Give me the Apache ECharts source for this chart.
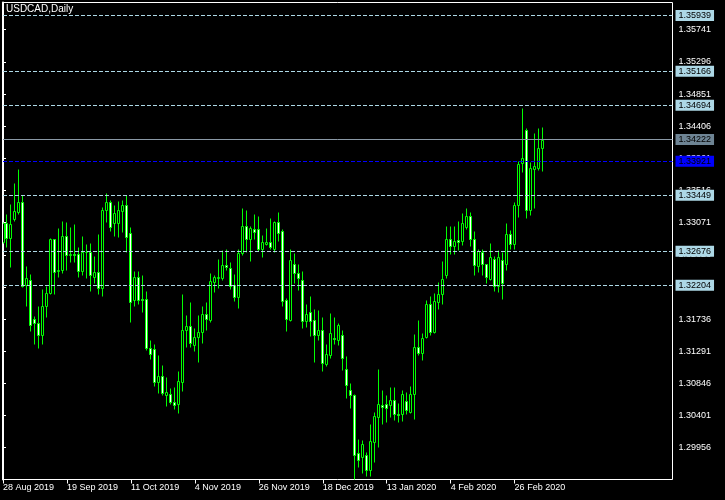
<!DOCTYPE html>
<html><head><meta charset="utf-8">
<script src="https://cdn.jsdelivr.net/npm/echarts@6/dist/echarts.min.js"></script>
<style>html,body{margin:0;padding:0;background:#000;}#c{width:725px;height:500px;}</style>
</head><body><div id="c"></div>
<script>
const dates = ['28 Aug 2019','29 Aug 2019','30 Aug 2019','2 Sep 2019','3 Sep 2019','4 Sep 2019','5 Sep 2019','6 Sep 2019','9 Sep 2019','10 Sep 2019','11 Sep 2019','12 Sep 2019','13 Sep 2019','16 Sep 2019','17 Sep 2019','18 Sep 2019','19 Sep 2019','20 Sep 2019','23 Sep 2019','24 Sep 2019','25 Sep 2019','26 Sep 2019','27 Sep 2019','30 Sep 2019','1 Oct 2019','2 Oct 2019','3 Oct 2019','4 Oct 2019','7 Oct 2019','8 Oct 2019','9 Oct 2019','10 Oct 2019','11 Oct 2019','14 Oct 2019','15 Oct 2019','16 Oct 2019','17 Oct 2019','18 Oct 2019','21 Oct 2019','22 Oct 2019','23 Oct 2019','24 Oct 2019','25 Oct 2019','28 Oct 2019','29 Oct 2019','30 Oct 2019','31 Oct 2019','1 Nov 2019','4 Nov 2019','5 Nov 2019','6 Nov 2019','7 Nov 2019','8 Nov 2019','11 Nov 2019','12 Nov 2019','13 Nov 2019','14 Nov 2019','15 Nov 2019','18 Nov 2019','19 Nov 2019','20 Nov 2019','21 Nov 2019','22 Nov 2019','25 Nov 2019','26 Nov 2019','27 Nov 2019','28 Nov 2019','29 Nov 2019','2 Dec 2019','3 Dec 2019','4 Dec 2019','5 Dec 2019','6 Dec 2019','9 Dec 2019','10 Dec 2019','11 Dec 2019','12 Dec 2019','13 Dec 2019','16 Dec 2019','17 Dec 2019','18 Dec 2019','19 Dec 2019','20 Dec 2019','23 Dec 2019','24 Dec 2019','26 Dec 2019','27 Dec 2019','30 Dec 2019','31 Dec 2019','2 Jan 2020','3 Jan 2020','6 Jan 2020','7 Jan 2020','8 Jan 2020','9 Jan 2020','10 Jan 2020','13 Jan 2020','14 Jan 2020','15 Jan 2020','16 Jan 2020','17 Jan 2020','20 Jan 2020','21 Jan 2020','22 Jan 2020','23 Jan 2020','24 Jan 2020','27 Jan 2020','28 Jan 2020','29 Jan 2020','30 Jan 2020','31 Jan 2020','3 Feb 2020','4 Feb 2020','5 Feb 2020','6 Feb 2020','7 Feb 2020','10 Feb 2020','11 Feb 2020','12 Feb 2020','13 Feb 2020','14 Feb 2020','17 Feb 2020','18 Feb 2020','19 Feb 2020','20 Feb 2020','21 Feb 2020','24 Feb 2020','25 Feb 2020','26 Feb 2020','27 Feb 2020','28 Feb 2020','2 Mar 2020','3 Mar 2020','4 Mar 2020','5 Mar 2020','6 Mar 2020'];

const opens = [1.3280,1.3306,1.3286,1.3312,1.3322,1.3335,1.3221,1.3228,1.3174,1.3168,
1.3152,1.3192,1.3209,1.3284,1.3240,1.3242,1.3288,1.3262,1.3263,1.3263,
1.3240,1.3267,1.3266,1.3232,1.3239,1.3217,1.3324,1.3335,1.3307,1.3307,
1.3323,1.3331,1.3293,1.3200,1.3232,1.3201,1.3201,1.3134,1.3132,1.3087,
1.3095,1.3069,1.3070,1.3059,1.3056,1.3087,1.3159,1.3164,1.3137,1.3149,
1.3156,1.3180,1.3172,1.3225,1.3231,1.3231,1.3248,1.3244,1.3221,1.3204,
1.3265,1.3302,1.3284,1.3298,1.3298,1.3271,1.3278,1.3280,1.3270,1.3308,
1.3295,1.3200,1.3172,1.3250,1.3238,1.3228,1.3171,1.3183,1.3172,1.3152,
1.3158,1.3112,1.3124,1.3147,1.3144,1.3152,1.3104,1.3075,1.3068,1.2988,
1.2982,1.2986,1.2964,1.3004,1.3038,1.3055,1.3056,1.3055,1.3061,1.3042,
1.3042,1.3060,1.3045,1.3070,1.3135,1.3126,1.3149,1.3194,1.3155,1.3197,
1.3208,1.3235,1.3284,1.3275,1.3283,1.3281,1.3301,1.3316,1.3285,1.3247,
1.3266,1.3250,1.3229,1.3257,1.3219,1.3256,1.3250,1.3292,1.3277,1.3331,
1.3389,1.3435,1.3324,1.3381,1.3383,1.3410];

const closes = [1.3306,1.3286,1.3305,1.3323,1.3335,1.3220,1.3230,1.3165,1.3168,1.3152,
1.3192,1.3209,1.3285,1.3239,1.3242,1.3288,1.3262,1.3264,1.3262,1.3240,
1.3267,1.3266,1.3235,1.3239,1.3217,1.3324,1.3335,1.3301,1.3321,1.3324,
1.3331,1.3287,1.3197,1.3232,1.3200,1.3200,1.3134,1.3125,1.3087,1.3095,
1.3071,1.3072,1.3059,1.3055,1.3088,1.3159,1.3164,1.3140,1.3149,1.3155,
1.3180,1.3174,1.3226,1.3232,1.3232,1.3248,1.3245,1.3220,1.3204,1.3265,
1.3302,1.3284,1.3300,1.3294,1.3271,1.3280,1.3280,1.3274,1.3308,1.3293,
1.3199,1.3173,1.3255,1.3238,1.3230,1.3171,1.3181,1.3171,1.3152,1.3158,
1.3113,1.3125,1.3154,1.3146,1.3166,1.3119,1.3082,1.3068,1.2985,1.2979,
1.3000,1.2965,1.3005,1.3039,1.3056,1.3052,1.3050,1.3061,1.3042,1.3041,
1.3070,1.3048,1.3070,1.3135,1.3127,1.3147,1.3194,1.3155,1.3198,1.3208,
1.3229,1.3285,1.3275,1.3281,1.3280,1.3306,1.3316,1.3285,1.3249,1.3268,
1.3250,1.3232,1.3259,1.3219,1.3259,1.3224,1.3292,1.3277,1.3331,1.3388,
1.3396,1.3325,1.3383,1.3385,1.3410,1.3422];

const lows = [1.3279,1.3273,1.3246,1.3310,1.3319,1.3218,1.3191,1.3157,1.3139,1.3134,
1.3139,1.3177,1.3208,1.3208,1.3232,1.3237,1.3242,1.3253,1.3253,1.3232,
1.3235,1.3230,1.3213,1.3224,1.3208,1.3206,1.3308,1.3296,1.3288,1.3287,
1.3294,1.3267,1.3170,1.3191,1.3195,1.3184,1.3131,1.3118,1.3081,1.3071,
1.3068,1.3053,1.3056,1.3049,1.3043,1.3074,1.3135,1.3135,1.3130,1.3114,
1.3141,1.3158,1.3169,1.3211,1.3216,1.3227,1.3242,1.3215,1.3199,1.3189,
1.3262,1.3267,1.3254,1.3284,1.3268,1.3260,1.3276,1.3271,1.3267,1.3281,
1.3192,1.3157,1.3171,1.3223,1.3214,1.3161,1.3163,1.3150,1.3114,1.3145,
1.3102,1.3108,1.3120,1.3139,1.3138,1.3103,1.3065,1.3050,1.2951,1.2969,
1.2961,1.2957,1.2957,1.2976,1.2996,1.3029,1.3031,1.3038,1.3034,1.3031,
1.3033,1.3042,1.3044,1.3035,1.3124,1.3117,1.3148,1.3151,1.3154,1.3187,
1.3194,1.3231,1.3263,1.3263,1.3269,1.3276,1.3298,1.3275,1.3235,1.3239,
1.3234,1.3224,1.3227,1.3213,1.3211,1.3201,1.3242,1.3270,1.3270,1.3315,
1.3377,1.3313,1.3317,1.3327,1.3380,1.3379];

const highs = [1.3308,1.3319,1.3333,1.3362,1.3382,1.3345,1.3247,1.3236,1.3178,1.3191,
1.3215,1.3220,1.3286,1.3285,1.3299,1.3310,1.3308,1.3301,1.3305,1.3274,
1.3288,1.3277,1.3279,1.3261,1.3291,1.3329,1.3348,1.3338,1.3331,1.3337,
1.3338,1.3346,1.3301,1.3240,1.3240,1.3234,1.3212,1.3145,1.3139,1.3124,
1.3110,1.3094,1.3078,1.3080,1.3102,1.3208,1.3179,1.3197,1.3161,1.3179,
1.3192,1.3197,1.3237,1.3235,1.3257,1.3269,1.3270,1.3252,1.3236,1.3271,
1.3327,1.3325,1.3303,1.3319,1.3316,1.3290,1.3300,1.3313,1.3310,1.3322,
1.3298,1.3203,1.3270,1.3265,1.3250,1.3240,1.3194,1.3205,1.3187,1.3186,
1.3177,1.3139,1.3182,1.3177,1.3168,1.3158,1.3122,1.3085,1.3070,1.3008,
1.3006,1.2990,1.3029,1.3045,1.3105,1.3076,1.3068,1.3080,1.3080,1.3057,
1.3075,1.3073,1.3081,1.3153,1.3172,1.3154,1.3200,1.3205,1.3210,1.3225,
1.3254,1.3303,1.3302,1.3302,1.3309,1.3321,1.3328,1.3322,1.3295,1.3271,
1.3270,1.3250,1.3279,1.3261,1.3269,1.3267,1.3307,1.3297,1.3335,1.3393,
1.3466,1.3438,1.3391,1.3431,1.3438,1.3439];

const yTickValues = [1.29956,1.30401,1.30846,1.31291,1.31736,1.32181,1.32626,1.33071,1.33516,1.33961,1.34406,1.34851,1.35296,1.35741];
const xLabelIndex = [0,16,32,48,64,80,96,112,128];
const levelLines = [1.35939,1.35166,1.34694,1.33449,1.32676,1.32204];
const bidLine = 1.34222;
const blueLine = 1.33921;
const yMin = 1.29515, yMax = 1.36118;
const xMax = 167.5;

const FONT = 'Liberation Sans';
const GREEN = '#00ff00';
const ohlc = dates.map((d, i) => [i, opens[i], closes[i], lows[i], highs[i]]);

const lineData = levelLines.map(v => ({
  yAxis: v,
  lineStyle: {type: [4, 2], color: '#add8e6', width: 1},
  label: {backgroundColor: '#add8e6'}
}));
lineData.push({yAxis: bidLine, lineStyle: {type: 'solid', color: '#8a99a6', width: 1}, label: {backgroundColor: '#6e8494'}});
lineData.push({yAxis: blueLine, lineStyle: {type: [4, 2], color: '#0000ff', width: 1}, label: {backgroundColor: '#0000ff'}});

function renderCandle(params, api) {
  const i = api.value(0);
  const o = api.value(1), c = api.value(2), l = api.value(3), h = api.value(4);
  const pO = api.coord([i, o]), pC = api.coord([i, c]);
  const pL = api.coord([i, l]), pH = api.coord([i, h]);
  const xc = Math.floor(pO[0]) + 0.5;
  const yTop = Math.round(Math.min(pO[1], pC[1])) + 0.5;
  const yBot = Math.round(Math.max(pO[1], pC[1])) + 0.5;
  const yHi = Math.round(pH[1]) + 0.5;
  const yLo = Math.round(pL[1]) + 0.5;
  const bear = o > c;
  return {
    type: 'group',
    children: [
      {type: 'line', shape: {x1: xc, y1: yHi, x2: xc, y2: yTop}, style: {stroke: GREEN, lineWidth: 1}},
      {type: 'line', shape: {x1: xc, y1: yBot, x2: xc, y2: yLo}, style: {stroke: GREEN, lineWidth: 1}},
      {type: 'rect', shape: {x: xc - 1, y: yTop, width: 2, height: Math.max(yBot - yTop, 0)},
       style: {fill: bear ? '#ffffff' : '#000000', stroke: GREEN, lineWidth: 1}}
    ]
  };
}

const chart = echarts.init(document.getElementById('c'), null, {renderer: 'canvas'});
chart.setOption({
  animation: false,
  backgroundColor: '#000',
  title: {
    text: 'USDCAD,Daily', left: 6, top: 4, padding: 0,
    textStyle: {color: '#fff', fontSize: 10, fontWeight: 'normal', fontFamily: FONT}
  },
  grid: {left: 2.5, right: 52.5, top: 2.5, bottom: 20.5, show: true, borderColor: '#fff', borderWidth: 1, backgroundColor: '#000'},
  xAxis: {
    type: 'value', min: 0, max: xMax,
    axisLine: {show: false},
    axisTick: {show: true, customValues: xLabelIndex, length: 4, lineStyle: {color: '#fff'}},
    axisLabel: {customValues: xLabelIndex, color: '#fff', fontSize: 9, fontFamily: FONT, align: 'left', margin: 4, hideOverlap: false, formatter: v => dates[v] || ''},
    splitLine: {show: false}
  },
  yAxis: {
    type: 'value', position: 'right', min: yMin, max: yMax, scale: true,
    axisLine: {show: true, lineStyle: {color: '#fff', width: 2}},
    axisTick: {show: true, customValues: yTickValues, length: 3, lineStyle: {color: '#fff'}},
    axisLabel: {customValues: yTickValues, color: '#fff', fontSize: 9, fontFamily: FONT, margin: 6, formatter: v => v.toFixed(5)},
    splitLine: {show: false}
  },
  series: [{
    type: 'custom',
    data: ohlc,
    encode: {x: 0, y: [1, 2, 3, 4]},
    clip: true,
    renderItem: renderCandle,
    markLine: {
      silent: true, animation: false, symbol: ['none', 'none'], precision: 5,
      label: {show: true, position: 'end', distance: 3, color: '#000', fontSize: 9, fontFamily: FONT, lineHeight: 10, padding: [1, 3, 0, 3], formatter: p => Number(p.value).toFixed(5)},
      data: lineData
    }
  }]
});
</script>
</body></html>
